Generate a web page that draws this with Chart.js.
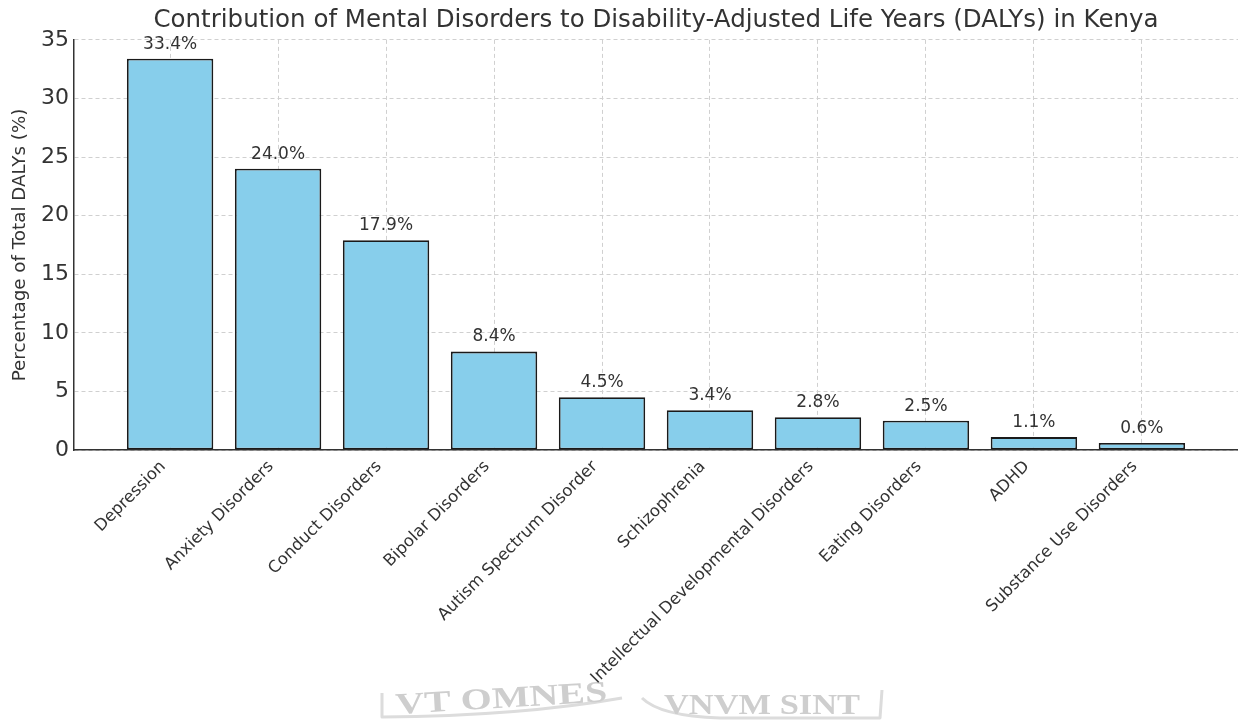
<!DOCTYPE html>
<html>
<head>
<meta charset="utf-8">
<script src="https://cdn.jsdelivr.net/npm/chart.js@4/dist/chart.umd.min.js"></script>
<style>
  html, body { margin: 0; padding: 0; background: #fff; }
  #wrap { width: 1238px; height: 721px; }
</style>
</head>
<body>
<div id="wrap"><canvas id="chart"></canvas></div>
<script>
const disorders = [
    'Depression', 'Anxiety Disorders', 'Conduct Disorders', 'Bipolar Disorders',
    'Autism Spectrum Disorder', 'Schizophrenia', 'Intellectual Developmental Disorders',
    'Eating Disorders', 'ADHD', 'Substance Use Disorders'
];
const dalyShare = [33.4, 24.0, 17.9, 8.4, 4.5, 3.4, 2.8, 2.5, 1.1, 0.6];
const yTicks = [0, 5, 10, 15, 20, 25, 30, 35];

const textColor = '#333';
const gridColor = '#d0d0d0';

// percentage labels above each bar
const valueLabels = {
    id: 'valueLabels',
    afterDatasetsDraw(chart) {
        const ctx = chart.ctx;
        const meta = chart.getDatasetMeta(0);
        ctx.save();
        ctx.font = '17px "DejaVu Sans"';
        ctx.fillStyle = textColor;
        ctx.textAlign = 'center';
        ctx.textBaseline = 'bottom';
        meta.data.forEach((bar, i) => {
            ctx.fillText(dalyShare[i].toFixed(1) + '%', bar.x, bar.y - 6);
        });
        ctx.restore();
    }
};

// white page with the faint motto stamp along the bottom edge
const background = {
    id: 'background',
    beforeDraw(chart) {
        const ctx = chart.ctx;
        ctx.save();
        ctx.fillStyle = '#fff';
        ctx.fillRect(0, 0, chart.width, chart.height);

        ctx.strokeStyle = '#dcdcdc';
        ctx.lineWidth = 3;
        ctx.lineJoin = 'round';
        // left banner
        ctx.beginPath();
        ctx.moveTo(382, 693);
        ctx.lineTo(382, 717);
        ctx.quadraticCurveTo(520, 716, 622, 698);
        ctx.stroke();
        // right banner
        ctx.beginPath();
        ctx.moveTo(642, 698);
        ctx.quadraticCurveTo(660, 716, 720, 718);
        ctx.lineTo(880, 718);
        ctx.lineTo(882, 690);
        ctx.stroke();

        ctx.font = 'bold 30px "Liberation Serif"';
        ctx.textBaseline = 'alphabetic';
        ctx.fillStyle = '#cecece';
        const parts = [['VT OMNES', 396, 714, 212, -0.06], ['VNVM SINT', 664, 714, 196, 0]];
        parts.forEach(([txt, x, y, w, rot]) => {
            const m = ctx.measureText(txt).width;
            ctx.save();
            ctx.translate(x, y);
            ctx.rotate(rot);
            ctx.scale(w / m, 1);
            ctx.fillText(txt, 0, 0);
            ctx.restore();
        });
        ctx.restore();
    }
};

new Chart(document.getElementById('chart'), {
    type: 'bar',
    data: {
        datasets: [{
            label: 'Percentage of Total DALYs (%)',
            data: dalyShare.map((v, i) => ({ x: i, y: v })),
            backgroundColor: '#87CEEB',
            borderColor: '#1a1a1a',
            borderWidth: 1.8,
            borderSkipped: false,
            categoryPercentage: 1,
            barPercentage: 0.8
        }]
    },
    options: {
        responsive: true,
        maintainAspectRatio: false,
        animation: false,
        layout: { padding: 0 },
        plugins: {
            legend: { display: false },
            tooltip: { enabled: false },
            title: {
                display: true,
                fullSize: false,
                text: 'Contribution of Mental Disorders to Disability-Adjusted Life Years (DALYs) in Kenya',
                color: textColor,
                font: { family: 'DejaVu Sans', size: 24.5, weight: 'normal', lineHeight: 1.2 },
                padding: { top: 5.5, bottom: 5 }
            }
        },
        scales: {
            x: {
                type: 'linear',
                min: -0.89,
                max: 9.89,
                offset: false,
                z: 1,
                afterBuildTicks(scale) {
                    scale.ticks = disorders.map((_, i) => ({ value: i }));
                },
                afterFit(scale) { scale.height = 271; },
                ticks: {
                    autoSkip: false,
                    minRotation: 45,
                    maxRotation: 45,
                    padding: 7,
                    labelOffset: -7,
                    color: textColor,
                    font: { family: 'DejaVu Sans', size: 16.5 },
                    callback: (v) => disorders[v]
                },
                grid: { color: gridColor, lineWidth: 1, drawTicks: false, offset: false },
                border: { display: true, color: '#333', width: 1.5, dash: [4, 3] }
            },
            y: {
                min: 0,
                max: 35,
                z: 1,
                afterBuildTicks(scale) {
                    scale.ticks = yTicks.map(v => ({ value: v }));
                },
                afterFit(scale) { scale.width = 74; },
                ticks: {
                    padding: 5,
                    color: textColor,
                    font: { family: 'DejaVu Sans', size: 22 }
                },
                grid: { color: gridColor, lineWidth: 1, drawTicks: false },
                border: { display: true, color: '#333', width: 1.5, dash: [4, 3] },
                title: {
                    display: true,
                    text: 'Percentage of Total DALYs (%)',
                    color: textColor,
                    font: { family: 'DejaVu Sans', size: 18.3 },
                    padding: { top: 9, bottom: 0 }
                }
            }
        }
    },
    plugins: [background, valueLabels]
});
</script>
</body>
</html>
